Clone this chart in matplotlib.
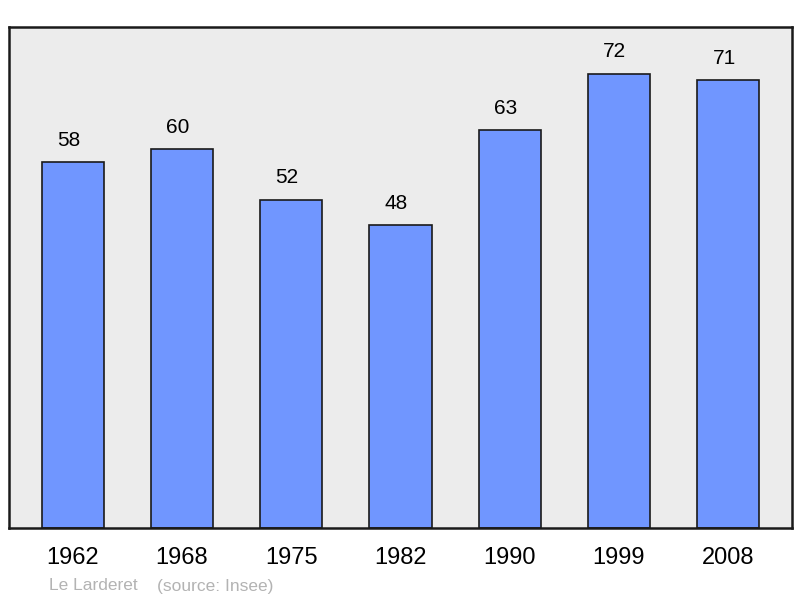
import matplotlib
matplotlib.use('Agg')
import matplotlib.pyplot as plt

years = ['1962', '1968', '1975', '1982', '1990', '1999', '2008']
population = [58, 60, 52, 48, 63, 72, 71]

plt.rcParams['font.family'] = ['Liberation Sans', 'DejaVu Sans']

fig = plt.figure(figsize=(8, 5.98), dpi=100)
ax = fig.add_axes([9 / 800, 70 / 598, 783 / 800, 501 / 598])
ax.set_facecolor('#ececec')

x = range(len(years))
ax.bar(x, population, width=0.57, color='#7096ff', edgecolor='#1a1a1a',
       linewidth=1.2, zorder=2)

for i, v in enumerate(population):
    ax.annotate(str(v), (i, v), xytext=(-3, 9), textcoords='offset points',
                ha='center', va='bottom', fontsize=15)

ax.set_xlim(-0.584, len(years) - 1 + 0.584)
ax.set_ylim(0, 79.4)
ax.set_yticks([])
ax.set_xticks(list(x))
ax.set_xticklabels(years, fontsize=17)
ax.tick_params(axis='x', length=0, pad=14)
for s in ax.spines.values():
    s.set_linewidth(1.8)
    s.set_color('#1a1a1a')

# footer
fig.text(49 / 800, 1 - 586 / 598, 'Le Larderet', color='#b3b3b3',
         fontsize=12.5, va='center')
fig.text(157 / 800, 1 - 586 / 598, '(source: Insee)', color='#b3b3b3',
         fontsize=12.5, va='center')

fig.savefig('out.png', dpi=100)
